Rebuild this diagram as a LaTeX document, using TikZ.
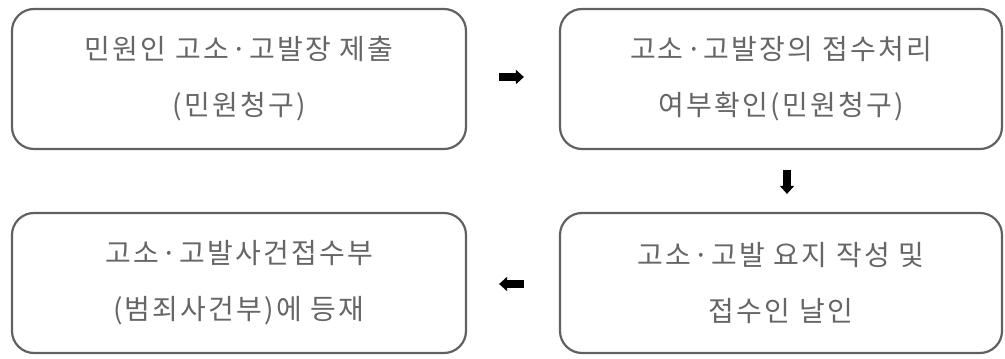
\documentclass[tikz,border=0pt]{standalone}
\usepackage{fontspec}
\setmainfont{Noto Sans CJK KR}
\usetikzlibrary{arrows.meta}
\definecolor{boxline}{gray}{0.38}
\definecolor{boxtext}{gray}{0.40}
\begin{document}
\begin{tikzpicture}[x=1pt,y=1pt,
  stepbox/.style={draw=boxline, line width=2.2pt, rounded corners=22pt,
    minimum height=140pt, align=center, text=boxtext,
    font=\fontsize{28}{56}\selectfont\addfontfeature{LetterSpace=8}},
  flow/.style={line width=8pt, -{Triangle[length=8pt,width=14pt]}, black}]
\useasboundingbox (0,0) rectangle (1005,359);
\node[stepbox, minimum width=454pt] (n1) at (239,280) {민원인 고소·고발장 제출\\(민원청구)};
\node[stepbox, minimum width=442pt] (n2) at (781,280) {고소·고발장의 접수처리\\여부확인(민원청구)};
\node[stepbox, minimum width=442pt] (n4) at (781,76) {고소·고발 요지 작성 및\\접수인 날인};
\node[stepbox, minimum width=454pt] (n3) at (239,76) {고소·고발사건접수부\\(범죄사건부)에 등재};
\draw[flow, shorten <=32pt, shorten >=35pt] ([yshift=2pt]n1.east) -- ([yshift=2pt]n2.west);
\draw[flow, shorten <=20pt, shorten >=18pt] ([xshift=6pt]n2.south) -- ([xshift=6pt]n4.north);
\draw[flow, shorten <=35pt, shorten >=32pt] ([yshift=-1pt]n4.west) -- ([yshift=-1pt]n3.east);
\end{tikzpicture}
\end{document}
